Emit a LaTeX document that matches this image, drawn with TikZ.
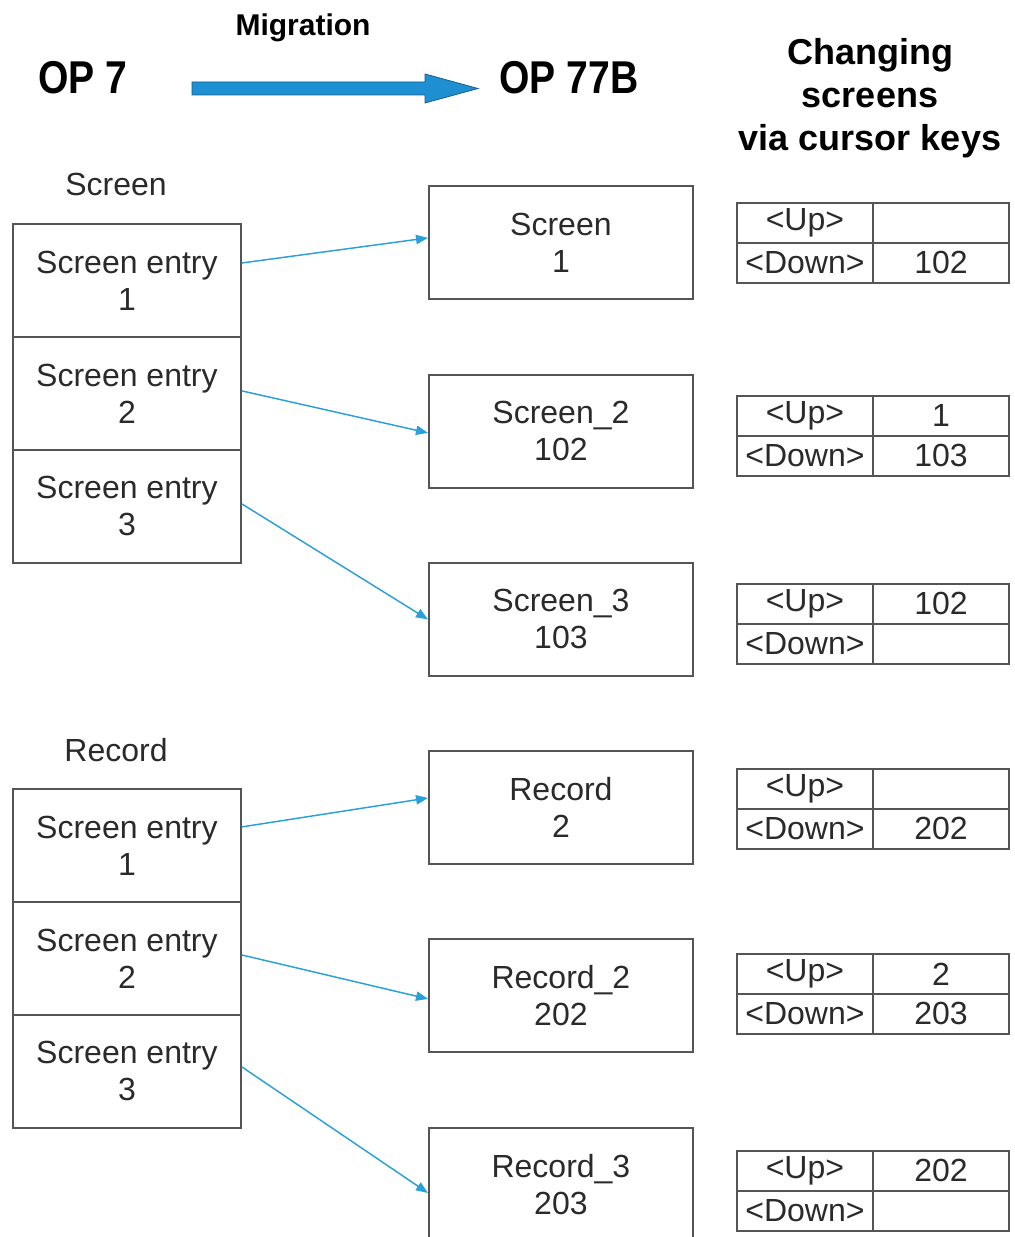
\documentclass[tikz,border=0pt]{standalone}
\usepackage{fontspec}
\setmainfont{Liberation Sans}
\newfontfamily\opfont[FakeStretch=0.85]{Liberation Sans}
\usetikzlibrary{arrows.meta}
\definecolor{ink}{HTML}{2A2A2A}
\definecolor{edge}{HTML}{555555}
\definecolor{linkblue}{HTML}{2AA0DA}
\definecolor{bigblue}{HTML}{1E90D2}
\definecolor{bigedge}{HTML}{1A5E8C}
\begin{document}
\begin{tikzpicture}[x=0.75pt,y=-0.75pt,
  txt/.style={text=ink,font=\fontsize{24}{27.75}\selectfont,align=center,inner sep=0pt},
  box/.style={txt,draw=edge,line width=1.4pt},
  entry/.style={box,minimum width=171pt,minimum height=84.75pt,anchor=north west},
  scr/.style={box,minimum width=198pt,minimum height=84.75pt,anchor=north west},
  cell/.style={box,minimum width=102pt,minimum height=30pt,anchor=north west},
  link/.style={draw=linkblue,line width=1.1pt,-{Triangle[length=9pt,width=7pt]}},
  head/.style={text=black,inner sep=0pt,align=center}
]
\useasboundingbox (0,0) rectangle (1014,1237);
\clip (0,0) rectangle (1014,1237);

% header
\node[head,font=\opfont\bfseries\fontsize{34.5}{40}\selectfont] (op7) at (83,78) {OP 7};
\node[head,font=\opfont\bfseries\fontsize{34.5}{40}\selectfont] (op77) at (569,78) {OP 77B};
\node[head,font=\bfseries\fontsize{22.5}{26}\selectfont] (mig) at (303,28) {Migration};
\node[head,font=\bfseries\fontsize{27}{32.2}\selectfont] (chg) at (870,98) {Changing\\screens\\via cursor keys};
\filldraw[fill=bigblue,draw=bigedge,line width=0.6pt]
  (192,82) -- (425,82) -- (425,74) -- (478,88.5) -- (425,103) -- (425,95) -- (192,95) -- cycle;

% group labels
\node[txt] (lscreen) at (116,184) {Screen};
\node[txt] (lrecord) at (116,750) {Record};

% left entries
\node[entry] (a1) at (12,223) {Screen entry\\1};
\node[entry] (a2) at (12,336) {Screen entry\\2};
\node[entry] (a3) at (12,449) {Screen entry\\3};
\node[entry] (b1) at (12,788) {Screen entry\\1};
\node[entry] (b2) at (12,901) {Screen entry\\2};
\node[entry] (b3) at (12,1014) {Screen entry\\3};

% middle screens
\node[scr] (s1) at (428,185) {Screen\\1};
\node[scr] (s2) at (428,374) {Screen\_2\\102};
\node[scr] (s3) at (428,562) {Screen\_3\\103};
\node[scr] (s4) at (428,750) {Record\\2};
\node[scr] (s5) at (428,938) {Record\_2\\202};
\node[scr] (s6) at (428,1127) {Record\_3\\203};

% tables
\foreach \i/\t/\u/\d in {1/202/{}/102, 2/395/1/103, 3/583/102/{}, 4/768/{}/202, 5/953/2/203, 6/1150/202/{}}{
  \node[cell] (ul\i) at (736,\t) {<Up>};
  \node[cell] (ur\i) at (872,\t) {\u};
  \node[cell] (dl\i) at (736,\t+40) {<Down>};
  \node[cell] (dr\i) at (872,\t+40) {\d};
}

% connectors
\draw[link] ([yshift=13.1pt]a1.east) -- ([yshift=3.4pt]s1.west);
\draw[link] ([yshift=1.9pt]a2.east) -- ([yshift=-1.1pt]s2.west);
\draw[link] ([yshift=1.9pt]a3.east) -- (s3.west);
\draw[link] ([yshift=13.9pt]b1.east) -- ([yshift=7.1pt]s4.west);
\draw[link] ([yshift=2.6pt]b2.east) -- ([yshift=-2.6pt]s5.west);
\draw[link] ([yshift=3.4pt]b3.east) -- ([yshift=-6.4pt]s6.west);
\end{tikzpicture}
\end{document}
